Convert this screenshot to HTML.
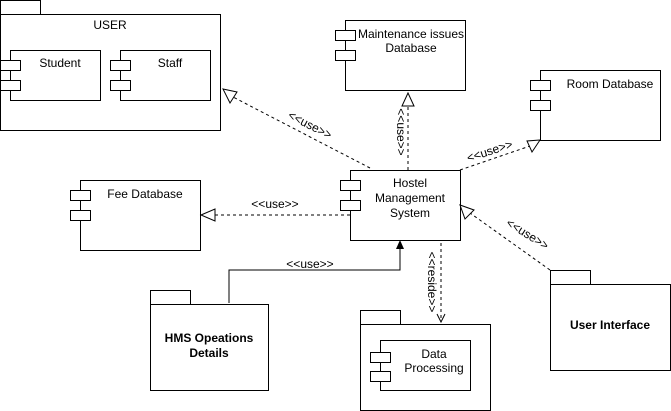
<!DOCTYPE html>
<html><head><style>body{margin:0;background:#fff}svg{display:block}text{font-family:"Liberation Sans",Arial,sans-serif;font-size:12px;fill:#000}</style></head><body>
<svg width="671" height="411" viewBox="0 0 671 411" xmlns="http://www.w3.org/2000/svg">
<g fill="#fff" stroke="#000" stroke-width="1">
<rect x="0.5" y="0.5" width="40" height="14"/>
<rect x="0.5" y="14.5" width="220" height="116"/>
<rect x="10.5" y="50.5" width="90" height="50"/>
<rect x="0.5" y="60.5" width="20" height="10"/><rect x="0.5" y="80.5" width="20" height="10"/>
<rect x="120.5" y="50.5" width="90" height="50"/>
<rect x="110.5" y="60.5" width="20" height="10"/><rect x="110.5" y="80.5" width="20" height="10"/>
<rect x="80.5" y="180.5" width="120" height="70"/>
<rect x="70.5" y="190.5" width="20" height="10"/><rect x="70.5" y="210.5" width="20" height="10"/>
<rect x="345.5" y="20.5" width="120" height="70"/>
<rect x="335.5" y="30.5" width="20" height="10"/><rect x="335.5" y="50.5" width="20" height="10"/>
<rect x="540.5" y="70.5" width="120" height="70"/>
<rect x="530.5" y="80.5" width="20" height="10"/><rect x="530.5" y="100.5" width="20" height="10"/>
<rect x="350.5" y="170.5" width="110" height="70"/>
<rect x="340.5" y="180.5" width="20" height="10"/><rect x="340.5" y="200.5" width="20" height="10"/>
<rect x="150.5" y="290.5" width="40" height="14"/>
<rect x="150.5" y="304.5" width="118" height="86"/>
<rect x="360.5" y="310.5" width="40" height="14"/>
<rect x="360.5" y="324.5" width="130" height="86"/>
<rect x="380.5" y="340.5" width="90" height="50"/>
<rect x="370.5" y="352.5" width="20" height="10"/><rect x="370.5" y="371.5" width="20" height="10"/>
<rect x="550.5" y="270.5" width="40" height="14"/>
<rect x="550.5" y="284.5" width="120" height="86"/>
</g>
<g fill="none" stroke="#000" stroke-dasharray="3,3">
<line x1="370" y1="168" x2="233" y2="97"/>
<line x1="408" y1="170" x2="408" y2="106"/>
<line x1="460" y1="170" x2="530" y2="146"/>
<line x1="350" y1="215" x2="215" y2="215"/>
<line x1="550" y1="270" x2="470" y2="213"/>
<line x1="441" y1="243" x2="441" y2="321"/>
</g>
<g fill="#fff" stroke="#000">
<polygon points="223,89 237,92 230,103"/>
<polygon points="408,93 402,106 414,106"/>
<polygon points="540,140 527,141 532,152"/>
<polygon points="201,215 215,209 215,221"/>
<polygon points="460,205 465,219 474,210"/>
</g>
<polyline points="437,314 441,322 445,314" fill="none" stroke="#000"/>
<polyline points="229,303 229,270 400,270 400,248" fill="none" stroke="#000"/>
<polygon points="400,240 396,249 404,249" fill="#000"/>
<text x="310" y="129" text-anchor="middle" font-size="10" transform="rotate(27 310 125)">&lt;&lt;use&gt;&gt;</text>
<text x="400" y="135" text-anchor="middle" font-size="10" transform="rotate(90 400 132)">&lt;&lt;use&gt;&gt;</text>
<text x="490" y="155" text-anchor="middle" font-size="10" transform="rotate(-18 490 152)">&lt;&lt;use&gt;&gt;</text>
<text x="275" y="208" text-anchor="middle" font-size="10">&lt;&lt;use&gt;&gt;</text>
<text x="527" y="238" text-anchor="middle" font-size="10" transform="rotate(32 527 235)">&lt;&lt;use&gt;&gt;</text>
<text x="310" y="268" text-anchor="middle" font-size="10">&lt;&lt;use&gt;&gt;</text>
<text x="431" y="285" text-anchor="middle" font-size="10" transform="rotate(90 431 282)">&lt;&lt;reside&gt;&gt;</text>
<text x="110" y="29" text-anchor="middle">USER</text>
<text x="60" y="67" text-anchor="middle">Student</text>
<text x="170" y="67" text-anchor="middle">Staff</text>
<text x="145" y="198" text-anchor="middle">Fee Database</text>
<text x="411" y="38" text-anchor="middle" font-size="11.5">Maintenance issues</text>
<text x="411" y="52" text-anchor="middle" font-size="11.5">Database</text>
<text x="610" y="88" text-anchor="middle">Room Database</text>
<text x="410" y="187" text-anchor="middle">Hostel</text>
<text x="410" y="202" text-anchor="middle">Management</text>
<text x="410" y="217" text-anchor="middle">System</text>
<text x="209" y="342" text-anchor="middle" font-weight="bold">HMS Opeations</text>
<text x="209" y="357" text-anchor="middle" font-weight="bold">Details</text>
<text x="434" y="358" text-anchor="middle">Data</text>
<text x="434" y="372" text-anchor="middle">Processing</text>
<text x="610" y="329" text-anchor="middle" font-weight="bold">User Interface</text>
</svg>
</body></html>
